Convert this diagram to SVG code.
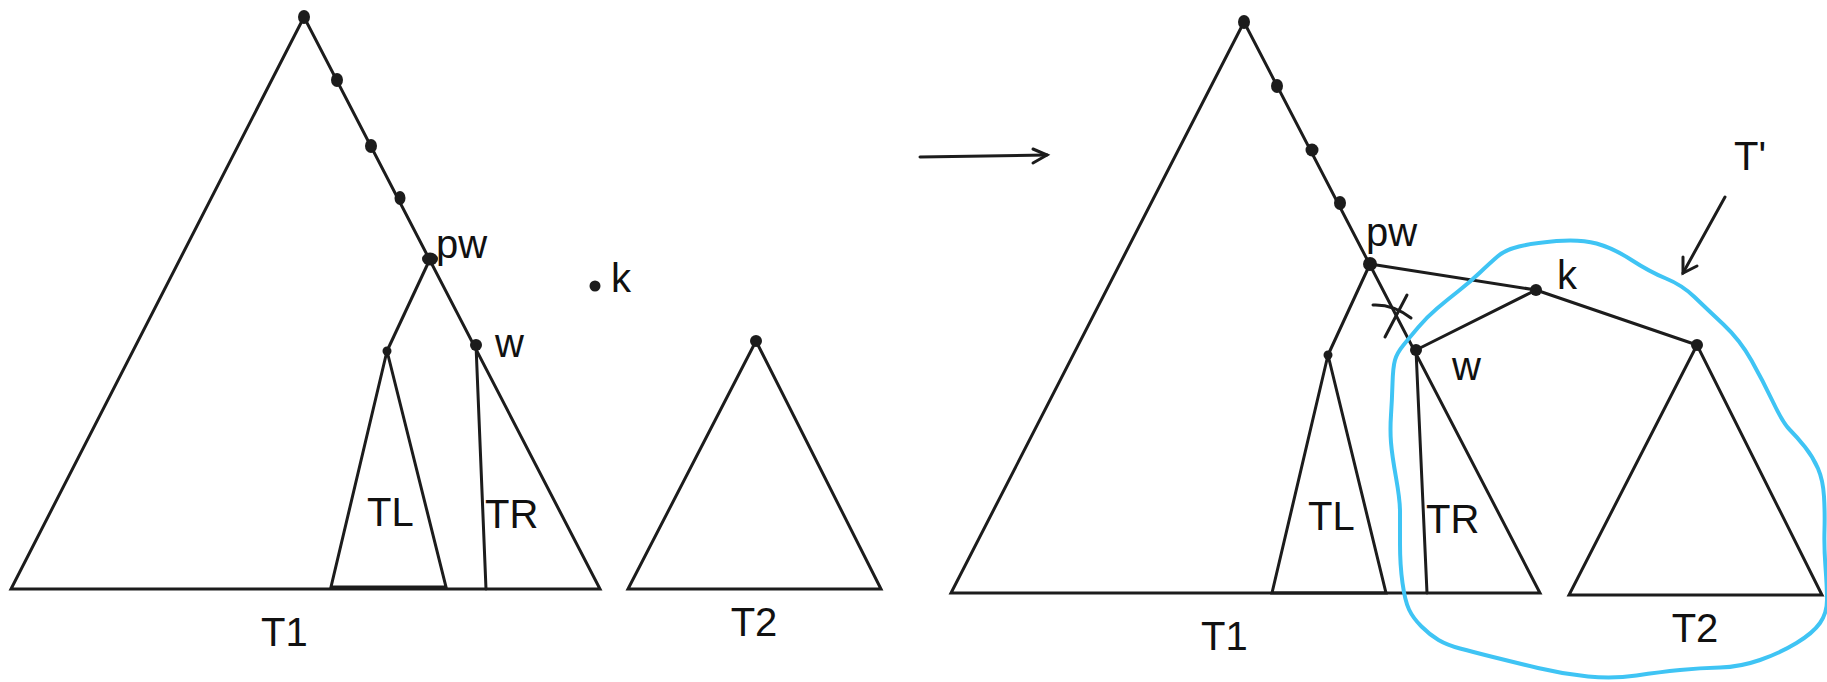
<svg xmlns="http://www.w3.org/2000/svg" width="1827" height="682" viewBox="0 0 1827 682">
<style>
.ln{fill:none;stroke:#1c1c1c;stroke-width:3;stroke-linejoin:miter;stroke-linecap:round}
.dot{fill:#1c1c1c}
.lbl{font-family:"Liberation Sans",Arial,sans-serif;font-size:40px;fill:#111}
.blue{fill:none;stroke:#3fc4f4;stroke-width:4;stroke-linejoin:round;stroke-linecap:round}
</style>
<rect width="1827" height="682" fill="#fff"/>

<g id="left-T1">
<polygon class="ln" points="304,17 11,589 600,589"/>
<text class="lbl" x="261" y="646">T1</text>
</g>
<g id="left-TL">
<polygon class="ln" points="387,351 331,587 446,587"/>
<text class="lbl" x="367" y="526">TL</text>
</g>
<g id="left-TR">
<text class="lbl" x="485" y="528">TR</text>
</g>
<g id="left-T2">
<polygon class="ln" points="756,341 628,589 881,589"/>
<circle class="dot" cx="756" cy="341" r="6"/>
<text class="lbl" x="754" y="636" text-anchor="middle">T2</text>
</g>
<g id="left-k">
<circle class="dot" cx="595" cy="286" r="5.5"/>
<text class="lbl" x="611" y="292">k</text>
</g>
<g id="left-pw">
<ellipse class="dot" cx="430" cy="259" rx="8" ry="6.5"/>
<text class="lbl" x="436" y="258">pw</text>
</g>
<g id="left-w">
<circle class="dot" cx="476" cy="345" r="6"/>
<text class="lbl" x="495" y="357">w</text>
</g>
<g id="left-spine-dots">
<ellipse class="dot" cx="304" cy="17" rx="6" ry="7"/>
<ellipse class="dot" cx="337" cy="80" rx="6" ry="7"/>
<ellipse class="dot" cx="371" cy="146" rx="6" ry="7"/>
<ellipse class="dot" cx="400" cy="198" rx="5.5" ry="7"/>
<circle class="dot" cx="387" cy="351" r="4.5"/>
</g>

<g id="right-T1">
<polygon class="ln" points="1244,22 951,593 1540,593"/>
<text class="lbl" x="1201" y="650">T1</text>
</g>
<g id="right-TL">
<polygon class="ln" points="1328,355 1272,593 1386,593"/>
<text class="lbl" x="1308" y="530">TL</text>
</g>
<g id="right-TR">
<text class="lbl" x="1426" y="533">TR</text>
</g>
<g id="right-T2">
<polygon class="ln" points="1697,345 1569,595 1822,595"/>
<circle class="dot" cx="1697" cy="345" r="6"/>
<text class="lbl" x="1695" y="642" text-anchor="middle">T2</text>
</g>
<g id="right-pw">
<circle class="dot" cx="1370" cy="264" r="7"/>
<text class="lbl" x="1366" y="246">pw</text>
</g>
<g id="right-w">
<circle class="dot" cx="1416" cy="350" r="6"/>
<text class="lbl" x="1452" y="380">w</text>
</g>
<g id="right-k">
<circle class="dot" cx="1536" cy="290" r="6"/>
<text class="lbl" x="1557" y="289">k</text>
</g>
<g id="right-spine-dots">
<ellipse class="dot" cx="1244" cy="22" rx="6" ry="7"/>
<ellipse class="dot" cx="1277" cy="86" rx="6" ry="7"/>
<circle class="dot" cx="1312" cy="150" r="6.5"/>
<ellipse class="dot" cx="1340" cy="203" rx="6" ry="7"/>
<circle class="dot" cx="1328" cy="355" r="4.5"/>
</g>
<g id="T-prime">
<text class="lbl" x="1734" y="170">T'</text>
</g>

<g id="connectors">
<line class="ln" x1="430" y1="259" x2="387" y2="351"/>
<line class="ln" x1="476" y1="345" x2="486" y2="589"/>
<line class="ln" x1="1370" y1="264" x2="1328" y2="355"/>
<line class="ln" x1="1416" y1="350" x2="1427" y2="593"/>
<line class="ln" x1="1370" y1="264" x2="1536" y2="290"/>
<line class="ln" x1="1536" y1="290" x2="1416" y2="350"/>
<line class="ln" x1="1536" y1="290" x2="1697" y2="345"/>
<path class="ln" d="M1373,305 Q1393,304 1411,318" stroke-width="4"/>
<line class="ln" x1="1385" y1="337" x2="1407" y2="295" stroke-width="4"/>
<line class="ln" x1="920" y1="157" x2="1047" y2="155"/>
<polyline class="ln" points="1033,149 1047,155 1033,163"/>
<line class="ln" x1="1725" y1="197" x2="1683" y2="273"/>
<polyline class="ln" points="1683,257 1683,273 1697,266"/>
</g>

<path class="blue" d="M1391,415 Q1392,400 1392.5,383.5 Q1393,367 1395,360 Q1397,353 1403.5,345 Q1410,337 1418.5,327 Q1427,317 1437,308.5 Q1447,300 1458.5,291 Q1470,282 1480,272.5 Q1490,263 1497.5,256.5 Q1505,250 1519,246.5 Q1533,243 1556.5,241 Q1580,239 1596.5,243.5 Q1613,248 1631.5,260 Q1650,272 1666,278.5 Q1682,285 1694.5,297 Q1707,309 1723.5,324.5 Q1740,340 1751.5,360.5 Q1763,381 1773,402 Q1783,423 1790,430 Q1797,437 1805,447 Q1813,457 1818,468.5 Q1823,480 1824,496.5 Q1825,513 1824.5,530 Q1824,547 1825.5,567 Q1827,587 1827,600 Q1827,613 1820,623 Q1813,633 1796.5,643 Q1780,653 1760,660 Q1740,667 1720,667.5 Q1700,668 1680,670 Q1660,672 1636.5,675.5 Q1613,679 1588,676.5 Q1563,674 1538,668 Q1513,662 1493,657 Q1473,652 1460,648.5 Q1447,645 1438.5,640 Q1430,635 1421.5,626.5 Q1413,618 1409,609.5 Q1405,601 1402.5,583 Q1400,565 1400,544 Q1400,523 1400,511.5 Q1400,500 1396,477.5 Q1392,455 1391,442.5 Q1390,430 1391,415 Z"/>
</svg>
